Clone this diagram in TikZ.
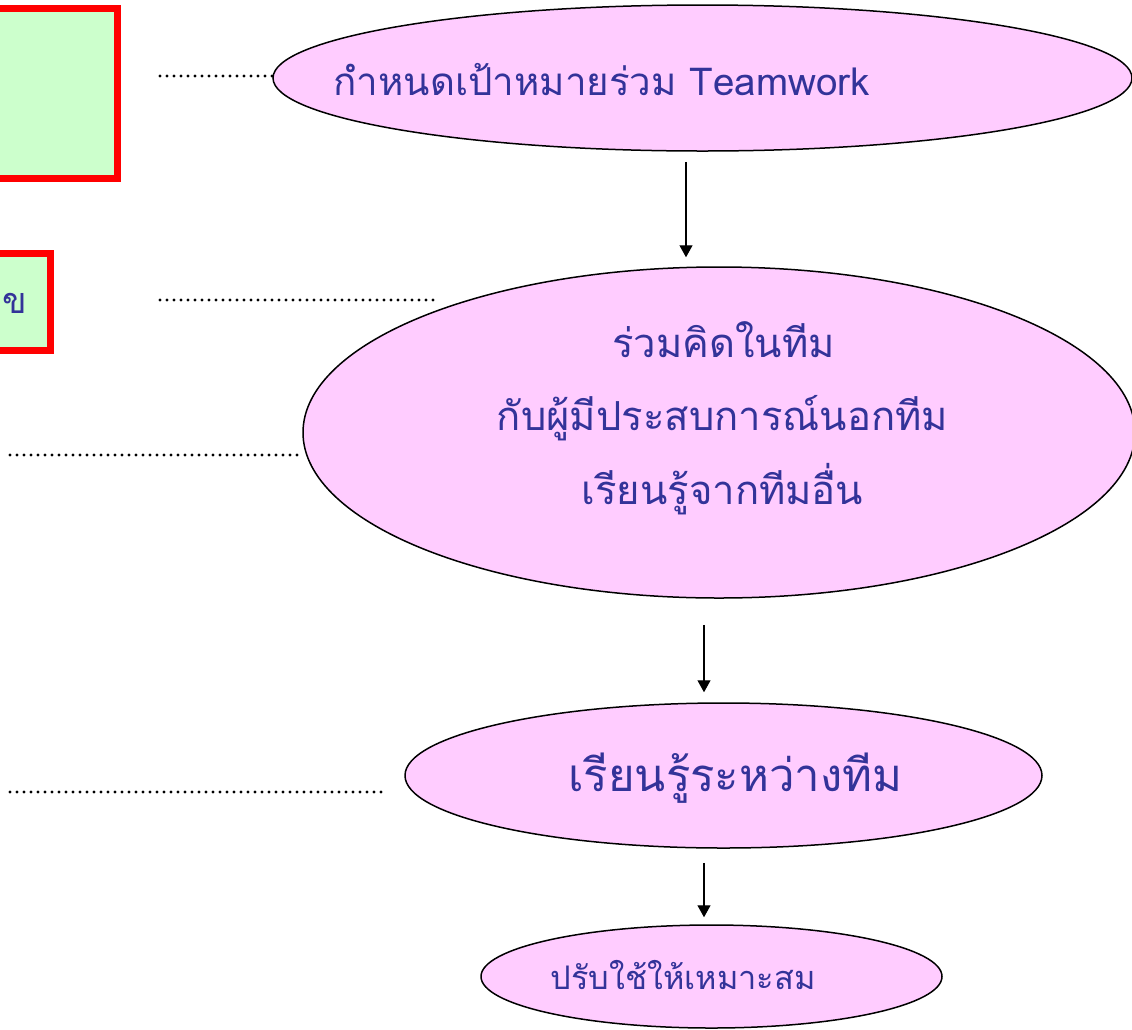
\documentclass[tikz,border=0pt]{standalone}
\usepackage{fontspec}
\newfontfamily\thai[Script=Thai]{Loma}
\usetikzlibrary{shapes.geometric,arrows.meta}
\definecolor{ellfill}{RGB}{255,204,255}
\definecolor{boxfill}{RGB}{204,255,204}
\definecolor{boxline}{RGB}{255,0,0}
\definecolor{txt}{RGB}{51,51,153}
\tikzset{
  oval/.style={ellipse, draw=black, line width=1.5pt, fill=ellfill, inner sep=0pt},
  redbox/.style={rectangle, draw=boxline, line width=7pt, fill=boxfill, inner sep=0pt},
  lbl/.style={anchor=base, text=txt, inner sep=0pt, font=\thai},
  dotline/.style={line width=3.2pt, line cap=round, dash pattern=on 0pt off 7pt},
  arr/.style={line width=1.3pt, -{Triangle[length=12pt,width=13pt]}}
}
\begin{document}
\begin{tikzpicture}[x=1pt,y=-1pt]
\useasboundingbox (0,0) rectangle (1132,1029);
% left boxes
\node[redbox, minimum width=137pt, minimum height=169.6pt] (b1) at (48.5,93.5) {};
\node[redbox, minimum width=70pt, minimum height=96.7pt] (b2) at (15,301.7) {};
\node[lbl, font=\thai\fontsize{36}{40}\selectfont] (tb2) at (15,313) {ข};
% ellipses
\node[oval, minimum width=859pt, minimum height=146pt] (e1) at (702.5,78) {};
\node[oval, minimum width=832pt, minimum height=331pt] (e2) at (719,432.5) {};
\node[oval, minimum width=637pt, minimum height=145pt] (e3) at (723.5,775.5) {};
\node[oval, minimum width=461pt, minimum height=103pt] (e4) at (711.5,976.5) {};
% texts
\node[lbl, font=\thai\fontsize{38.5}{44}\selectfont] (t1) at (601.5,95) {กำหนดเป้าหมายร่วม Teamwork};
\node[lbl, font=\thai\fontsize{40}{46}\selectfont] (t2a) at (723.5,357) {ร่วมคิดในทีม};
\node[lbl, font=\thai\fontsize{40}{46}\selectfont] (t2b) at (722.5,430) {กับผู้มีประสบการณ์นอกทีม};
\node[lbl, font=\thai\fontsize{40}{46}\selectfont] (t2c) at (722.5,504) {เรียนรู้จากทีมอื่น};
\node[lbl, font=\thai\fontsize{45.5}{52}\selectfont] (t3) at (735.5,791) {เรียนรู้ระหว่างทีม};
\node[lbl, font=\thai\fontsize{32.5}{38}\selectfont] (t4) at (683,989) {ปรับใช้ให้เหมาะสม};
% dotted leaders
\coordinate (d1) at (160,76);
\coordinate (d2s) at (160,300);
\coordinate (d2e) at (438,300);
\coordinate (d3) at (10,455);
\coordinate (d4s) at (10,792);
\coordinate (d4e) at (387,792);
\draw[dotline] (d1) -- (d1 -| e1.west);
\draw[dotline] (d2s) -- (d2e);
\draw[dotline] (d3) -- (d3 -| e2.west);
\draw[dotline] (d4s) -- (d4e);
% arrows
\draw[arr] ([shift={(-16.5,10)}]e1.south) -- ([shift={(-33,-9)}]e2.north);
\draw[arr] ([shift={(-15,26)}]e2.south) -- ([shift={(-19.5,-10)}]e3.north);
\draw[arr] ([shift={(-19.5,14)}]e3.south) -- ([shift={(-7.5,-7)}]e4.north);
\end{tikzpicture}
\end{document}
